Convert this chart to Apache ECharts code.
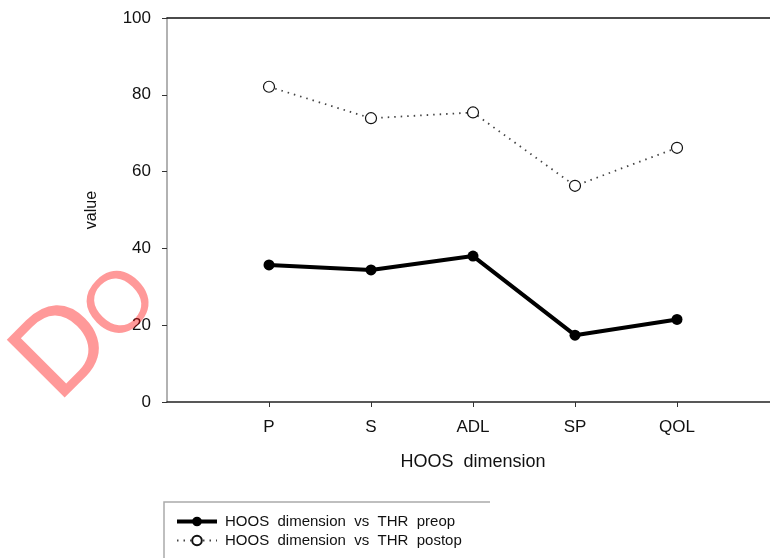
<!DOCTYPE html>
<html>
<head>
<meta charset="utf-8">
<script src="https://cdn.jsdelivr.net/npm/echarts@6/dist/echarts.min.js"></script>
<style>
html,body{margin:0;padding:0;background:#fff;}
#chart{width:770px;height:558px;}
</style>
</head>
<body>
<div id="chart"></div>
<script>
const categories = ['P', 'S', 'ADL', 'SP', 'QOL'];
const preopValues = [35.7, 34.4, 38.0, 17.4, 21.5];
const postopValues = [82.1, 73.9, 75.4, 56.3, 66.2];
const yTicks = [0, 20, 40, 60, 80, 100];
const seriesNames = ['HOOS  dimension  vs  THR  preop', 'HOOS  dimension  vs  THR  postop'];
const xAxisName = 'HOOS  dimension';
const yAxisName = 'value';
const watermark = ['D', 'O'];

const axisCats = [''].concat(categories).concat([' ']);
const FONT = 'Liberation Sans, Arial, sans-serif';

const chart = echarts.init(document.getElementById('chart'));
chart.setOption({
  animation: false,
  backgroundColor: '#fff',
  textStyle: { fontFamily: FONT },
  grid: { left: 167, top: 18, height: 384, width: 612, containLabel: false, outerBoundsMode: 'none' },
  xAxis: [{
    type: 'category',
    data: axisCats,
    boundaryGap: false,
    name: xAxisName,
    nameLocation: 'middle',
    nameGap: 51,
    nameTextStyle: { fontSize: 18, color: '#111', fontFamily: FONT },
    axisLine: { lineStyle: { color: '#222', width: 1.5 } },
    axisTick: { show: true, length: 5, inside: false, interval: function (i) { return i > 0 && i < axisCats.length - 1; }, lineStyle: { color: '#333' } },
    axisLabel: { fontSize: 17, color: '#111', margin: 17, interval: 0, fontFamily: FONT },
    splitLine: { show: false }
  }, {
    type: 'category',
    data: axisCats,
    boundaryGap: false,
    position: 'top',
    axisLine: { lineStyle: { color: '#111', width: 1.5 } },
    axisTick: { show: false },
    axisLabel: { show: false },
    splitLine: { show: false }
  }],
  yAxis: {
    type: 'value',
    min: yTicks[0],
    max: yTicks[yTicks.length - 1],
    interval: 20,
    name: yAxisName,
    nameLocation: 'middle',
    nameGap: 67,
    nameRotate: 90,
    nameTextStyle: { fontSize: 16, color: '#111', fontFamily: FONT },
    axisLine: { show: true, lineStyle: { color: '#999', width: 1.5 } },
    axisTick: { show: true, length: 5, lineStyle: { color: '#333' } },
    axisLabel: { fontSize: 17, color: '#111', margin: 16, fontFamily: FONT },
    splitLine: { show: false }
  },
  legend: {
    orient: 'vertical',
    left: 175,
    top: 514,
    padding: 0,
    itemWidth: 40,
    itemHeight: 12,
    itemGap: 4,
    textStyle: { fontSize: 15, lineHeight: 15, color: '#111', fontFamily: FONT, padding: [0, 0, 0, 3] },
    data: [
      { name: seriesNames[0], lineStyle: { width: 4 } },
      { name: seriesNames[1] }
    ]
  },
  series: [{
    name: seriesNames[0],
    type: 'line',
    data: categories.map((c, i) => [c, preopValues[i]]),
    symbol: 'circle',
    symbolSize: 11,
    itemStyle: { color: '#000' },
    lineStyle: { color: '#000', width: 4 },
    z: 3
  }, {
    name: seriesNames[1],
    type: 'line',
    data: categories.map((c, i) => [c, postopValues[i]]),
    symbol: 'circle',
    symbolSize: 11,
    itemStyle: { color: '#fff', borderColor: '#111', borderWidth: 1.2 },
    lineStyle: { color: '#444', width: 1.8, type: [1.5, 5] },
    z: 2
  }],
  graphic: [{
    type: 'polyline',
    shape: { points: [[164, 570], [164, 502], [490, 502]] },
    style: { stroke: '#aaa', lineWidth: 1.5, fill: null },
    silent: true
  }, {
    type: 'text',
    x: 65,
    y: 351,
    rotation: Math.PI / 4,
    style: {
      text: watermark[0],
      fontSize: 119,
      fontFamily: FONT,
      fill: 'rgba(255,0,0,0.4)',
      align: 'center',
      verticalAlign: 'middle'
    },
    silent: true,
    z: 10
  }, {
    type: 'text',
    x: 122,
    y: 306,
    rotation: Math.PI / 4,
    style: {
      text: watermark[1],
      fontSize: 86,
      fontFamily: FONT,
      fill: 'rgba(255,0,0,0.4)',
      align: 'center',
      verticalAlign: 'middle'
    },
    silent: true,
    z: 10
  }]
});
</script>
</body>
</html>
